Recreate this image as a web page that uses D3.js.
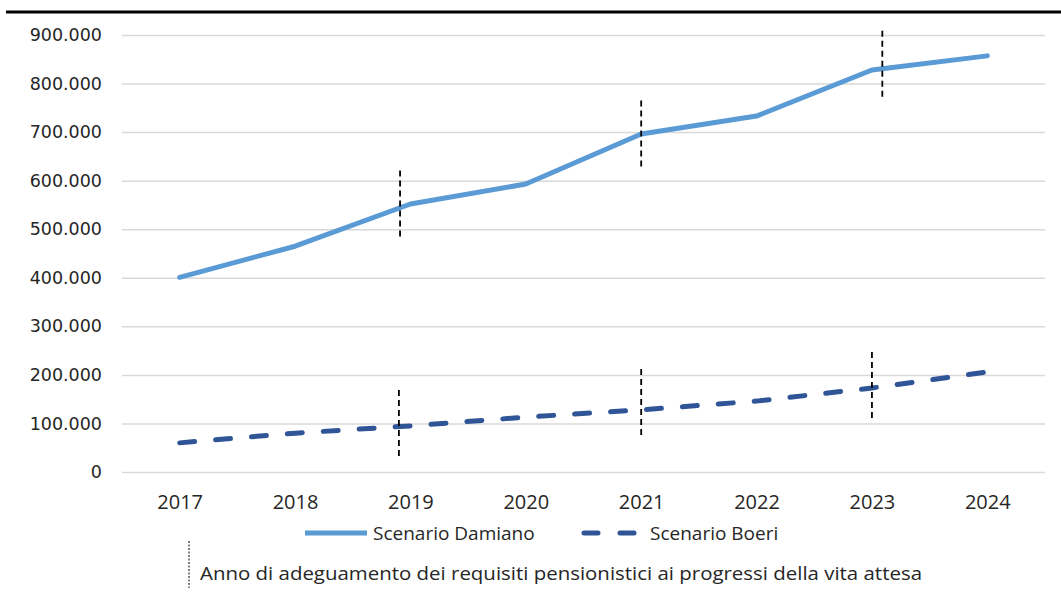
<!DOCTYPE html>
<html><head><meta charset="utf-8">
<script src="https://cdn.jsdelivr.net/npm/d3@7"></script>
<style>body{margin:0;background:#fff}svg{display:block}</style>
</head><body><svg id="c" width="1061" height="608"></svg>
<script>
const years = ["2017","2018","2019","2020","2021","2022","2023","2024"];
const damiano = [401000, 465000, 552000, 593000, 696000, 733000, 828000, 857000];
const boeri = [60000, 80000, 95000, 113000, 128000, 146000, 173000, 206000];
const yTicks = [0,100000,200000,300000,400000,500000,600000,700000,800000,900000];
const markerYears = ["2019","2021","2023"];
const markerUpperShift = [-0.09, 0, 0.09];
const markerLowerShift = [-0.1, 0, 0];
const markerUpperTop = [621000, 765000, 909000];
const markerUpperBottom = [477000, 626000, 765000];
const markerLowerTop = [169000, 212000, 247000];
const markerLowerBottom = [29000, 70000, 105000];
const seriesNames = ["Scenario Damiano","Scenario Boeri"];
const noteText = "Anno di adeguamento dei requisiti pensionistici ai progressi della vita attesa";

const svg = d3.select("#c");
const L = 122, R = 1045, T = 35, B = 472;
const x = d3.scalePoint().domain(years).range([L, R]).padding(0.5);
const y = d3.scaleLinear().domain([0, 900000]).range([B, T]);
const fmt = v => d3.format(",")(v).replace(/,/g, ".");

// top rule
svg.append("line").attr("x1",6).attr("x2",1061).attr("y1",12).attr("y2",12)
  .attr("stroke","#000").attr("stroke-width",3);

// gridlines + y labels
const yAxis = d3.axisLeft(y).tickValues(yTicks).tickSize(-(R-L)).tickFormat(fmt).tickPadding(20);
const gy = svg.append("g").attr("transform",`translate(${L},0)`).call(yAxis);
gy.select(".domain").remove();
gy.selectAll(".tick line").attr("stroke","#d9d9d9").attr("stroke-width",1.5);
gy.selectAll(".tick text").attr("font-family","DejaVu Sans").attr("font-size",17.5).attr("fill","#262626");

// x labels
const xAxis = d3.axisBottom(x).tickSize(0).tickPadding(23);
const gx = svg.append("g").attr("transform",`translate(0,${B})`).call(xAxis);
gx.select(".domain").remove();
gx.selectAll(".tick text").attr("font-family","Open Sans").attr("font-size",20).attr("fill","#262626");

const line = d3.line().x((d,i)=>x(years[i])).y(d=>y(d));
svg.append("path").datum(damiano).attr("d",line).attr("fill","none")
  .attr("stroke","#5B9BD5").attr("stroke-width",5).attr("stroke-linecap","round").attr("stroke-linejoin","round");
svg.append("path").datum(boeri).attr("d",line).attr("fill","none")
  .attr("stroke","#2F5597").attr("stroke-width",5).attr("stroke-linecap","round")
  .attr("stroke-dasharray","15,21");

// markers
const step = x.step();
function markers(tops, bots, shift){
  svg.append("g").selectAll("line").data(markerYears).join("line")
    .attr("x1",(d,i)=>x(d)+shift[i]*step).attr("x2",(d,i)=>x(d)+shift[i]*step)
    .attr("y1",(d,i)=>y(tops[i])).attr("y2",(d,i)=>y(bots[i]))
    .attr("stroke","#000").attr("stroke-width",1.8).attr("stroke-dasharray","6,4");
}
markers(markerUpperTop, markerUpperBottom, markerUpperShift);
markers(markerLowerTop, markerLowerBottom, markerLowerShift);

// legend
const lg = svg.append("g").attr("font-family","Open Sans").attr("font-size",19).attr("fill","#262626");
lg.append("line").attr("x1",305).attr("x2",367).attr("y1",533).attr("y2",533)
  .attr("stroke","#5B9BD5").attr("stroke-width",5);
lg.append("text").attr("x",373).attr("y",540).text(seriesNames[0]);
lg.append("line").attr("x1",584).attr("x2",638).attr("y1",533).attr("y2",533)
  .attr("stroke","#2F5597").attr("stroke-width",5).attr("stroke-linecap","round").attr("stroke-dasharray","14,22");
lg.append("text").attr("x",650).attr("y",540).text(seriesNames[1]);

// note
svg.append("line").attr("x1",189).attr("x2",189).attr("y1",541).attr("y2",588)
  .attr("stroke","#000").attr("stroke-width",1).attr("stroke-dasharray","2,1.5");
svg.append("text").attr("x",200).attr("y",580).attr("font-family","Open Sans").attr("font-size",18)
  .attr("fill","#262626").attr("textLength",722).attr("lengthAdjust","spacingAndGlyphs").text(noteText);
</script></body></html>
